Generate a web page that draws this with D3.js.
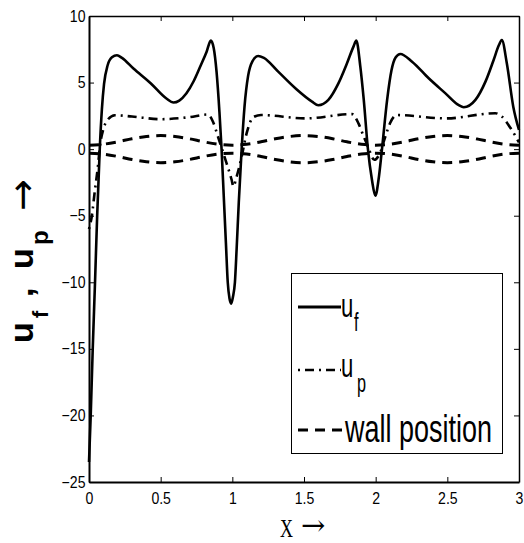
<!DOCTYPE html>
<html>
<head>
<meta charset="utf-8">
<script src="https://cdn.jsdelivr.net/npm/d3@7"></script>
<style>
  body { margin: 0; background: #fff; }
  svg { display: block; }
  .tick text { font-family: "Liberation Sans", Arial, sans-serif; font-size: 16px; fill: #000; }
</style>
</head>
<body>
<svg id="chart" width="524" height="543" viewBox="0 0 524 543"></svg>
<script>
// fluid velocity u_f (solid)
const uf = [
  [0,-23.5],[0.012,-20],[0.026,-15],[0.042,-10],[0.057,-5],[0.075,0],[0.09,3],[0.105,4.9],
  [0.13,6.3],[0.16,6.9],[0.195,7.05],[0.23,6.85],[0.31,6.05],[0.43,4.95],[0.54,3.8],
  [0.59,3.5],[0.63,3.65],[0.68,4.2],[0.73,5.1],[0.78,6.3],[0.82,7.3],[0.85,8.15],
  [0.87,7.6],[0.89,5.8],[0.91,2.8],[0.925,0],[0.94,-3.5],[0.955,-7],[0.968,-10],
  [0.98,-11.2],[0.992,-11.6],[1.004,-11.1],[1.018,-10],[1.03,-7.5],[1.045,-4],
  [1.065,0],[1.085,3.2],[1.11,5.5],[1.14,6.6],[1.18,7.0],[1.22,6.85],[1.32,5.82],
  [1.44,4.57],[1.556,3.57],[1.6,3.3],[1.67,3.7],[1.74,4.94],[1.8,6.45],[1.845,7.7],
  [1.865,8.15],[1.893,6.2],[1.917,3.7],[1.946,0],[1.974,-2.3],[1.998,-3.5],
  [2.02,-2.3],[2.044,0],[2.08,3.7],[2.11,5.9],[2.14,6.9],[2.172,7.15],[2.254,6.57],
  [2.37,5.32],[2.487,4.19],[2.58,3.3],[2.614,3.15],[2.696,3.7],[2.766,5.07],
  [2.823,6.7],[2.86,7.82],[2.88,8.2],[2.915,6.45],[2.96,3.19],[3.0,1.44]
];

// particle velocity u_p (dash-dot)
const up = [
  [0,-6],[0.02,-5],[0.04,-3.2],[0.06,-1.5],[0.08,0.5],[0.1,1.5],[0.13,2.2],[0.18,2.55],
  [0.3,2.45],[0.5,2.25],[0.7,2.4],[0.83,2.6],[0.865,2.06],[0.9,0.93],[0.96,-1.07],
  [0.995,-2.3],[1.007,-2.8],[1.03,-2.07],[1.065,-0.57],[1.1,1.2],[1.146,2.4],[1.2,2.56],
  [1.51,2.31],[1.835,2.63],[1.88,1.94],[1.917,0.93],[1.946,0.2],[1.99,-0.8],
  [2.03,-0.3],[2.067,0.93],[2.1,1.94],[2.147,2.56],[2.49,2.31],[2.835,2.7],
  [2.88,2.45],[2.94,1.6],[3.0,0.5]
];

// wall position (dashed), upper and lower walls
const wallX = [0,0.1,0.2,0.3,0.4,0.5,0.6,0.7,0.8,0.9,1.0,1.1,1.2,1.3,1.4,1.5,1.6,1.7,1.8,1.9,2.0,
               2.1,2.2,2.3,2.4,2.5,2.6,2.7,2.8,2.9,3.0];
const wallUpper = [0.3,0.37,0.55,0.78,0.95,1.02,0.95,0.78,0.55,0.37,0.3,0.37,0.55,0.78,0.95,1.02,
                   0.95,0.78,0.55,0.37,0.3,0.37,0.55,0.78,0.95,1.02,0.95,0.78,0.55,0.37,0.3];
const wallLower = [-0.3,-0.37,-0.55,-0.78,-0.95,-1.02,-0.95,-0.78,-0.55,-0.37,-0.3,-0.37,-0.55,-0.78,
                   -0.95,-1.02,-0.95,-0.78,-0.55,-0.37,-0.3,-0.37,-0.55,-0.78,-0.95,-1.02,-0.95,-0.78,
                   -0.55,-0.37,-0.3];

const xTicks = [0,0.5,1,1.5,2,2.5,3];
const yTicks = [-25,-20,-15,-10,-5,0,5,10];

let svg = d3.select("#chart");
let margins = {top: 16, right: 5, bottom: 61, left: 89};
let totalWidth = 524, totalHeight = 543;

let x = d3.scaleLinear([0, 3], [margins.left, totalWidth - margins.right]);
let y = d3.scaleLinear([-25, 10], [totalHeight - margins.bottom, margins.top]);

let dashDot = "2,5,9,5";
let dashed = "10,7";
let fmt = d3.format("~g");

// axes (ticks inside, MATLAB style)
let gBottom = svg.append("g")
    .attr("transform", `translate(0,${y(-25)})`)
    .call(d3.axisBottom(x).tickValues(xTicks).tickFormat(fmt).tickSizeInner(-5).tickSizeOuter(0).tickPadding(11));
let gLeft = svg.append("g")
    .attr("transform", `translate(${x(0)},0)`)
    .call(d3.axisLeft(y).tickValues(yTicks).tickFormat(fmt).tickSizeInner(-5).tickSizeOuter(0).tickPadding(4));
let gTop = svg.append("g")
    .attr("transform", `translate(0,${y(10)})`)
    .call(d3.axisTop(x).tickValues(xTicks).tickFormat("").tickSizeInner(-5).tickSizeOuter(0));
let gRight = svg.append("g")
    .attr("transform", `translate(${x(3)},0)`)
    .call(d3.axisRight(y).tickValues(yTicks).tickFormat("").tickSizeInner(-5).tickSizeOuter(0));

[gBottom, gLeft].forEach(g => g.select(".domain").attr("stroke-width", 2));
[gTop, gRight].forEach(g => g.select(".domain").attr("stroke-width", 1.5));
svg.selectAll(".tick line").attr("stroke-width", 1);
svg.selectAll(".tick text").attr("transform", "scale(0.88,1)");

// curves
let line = d3.line().x(d => x(d[0])).y(d => y(d[1])).curve(d3.curveMonotoneX);

svg.append("path")
    .datum(wallX.map((v, i) => [v, wallUpper[i]]))
    .attr("d", line).attr("fill", "none").attr("stroke", "#000")
    .attr("stroke-width", 3).attr("stroke-dasharray", dashed);
svg.append("path")
    .datum(wallX.map((v, i) => [v, wallLower[i]]))
    .attr("d", line).attr("fill", "none").attr("stroke", "#000")
    .attr("stroke-width", 3).attr("stroke-dasharray", dashed);

svg.append("path")
    .datum(up)
    .attr("d", line).attr("fill", "none").attr("stroke", "#000")
    .attr("stroke-width", 2.6).attr("stroke-dasharray", dashDot);

svg.append("path")
    .datum(uf)
    .attr("d", line).attr("fill", "none").attr("stroke", "#000")
    .attr("stroke-width", 2.6);

// legend
let legend = svg.append("g");
legend.append("rect")
    .attr("x", 291.5).attr("y", 273.5).attr("width", 211).attr("height", 180)
    .attr("fill", "#fff").attr("stroke", "#000").attr("stroke-width", 1);

let sans = "Liberation Sans, Arial, sans-serif";
let legendRows = [
  {y: 307, dash: null, w: 3, text: "u", sub: "f", base: 317, subBase: 331, subX: 354},
  {y: 370, dash: dashDot, w: 2.6, text: "u", sub: "p", base: 377, subBase: 392, subX: 357}
];
legendRows.forEach(r => {
  legend.append("line")
      .attr("x1", 298).attr("x2", 341).attr("y1", r.y).attr("y2", r.y)
      .attr("stroke", "#000").attr("stroke-width", r.w)
      .attr("stroke-dasharray", r.dash);
  legend.append("text")
      .attr("transform", `translate(341,${r.base}) scale(0.65,1)`)
      .style("font-family", sans).style("font-size", "34px")
      .text(r.text);
  legend.append("text")
      .attr("transform", `translate(${r.subX},${r.subBase}) scale(0.65,1)`)
      .style("font-family", sans).style("font-size", "25px")
      .text(r.sub);
});
legend.append("line")
    .attr("x1", 298).attr("x2", 342).attr("y1", 430).attr("y2", 430)
    .attr("stroke", "#000").attr("stroke-width", 3).attr("stroke-dasharray", dashed);
legend.append("text")
    .attr("transform", "translate(345,442) scale(0.71,1)")
    .style("font-family", sans).style("font-size", "38px")
    .text("wall position");

// x label
svg.append("text")
    .attr("transform", "translate(280,537) scale(0.72,1)")
    .style("font-family", "Liberation Serif, Times New Roman, serif").style("font-size", "25px")
    .text("X");
svg.append("text")
    .attr("x", 301).attr("y", 535)
    .style("font-family", "DejaVu Serif, serif").style("font-size", "29px")
    .text("\u2192");

// y label (rotated), pieces placed along the vertical
let ylab = svg.append("g").attr("transform", "rotate(-90)");
ylab.append("text").attr("x", -343).attr("y", 33)
    .style("font-family", sans).style("font-size", "34px").style("font-weight", "bold").text("u");
ylab.append("text").attr("x", -318).attr("y", 48)
    .style("font-family", sans).style("font-size", "22px").style("font-weight", "bold").text("f");
ylab.append("text").attr("x", -297).attr("y", 33)
    .style("font-family", sans).style("font-size", "34px").style("font-weight", "bold").text(",");
ylab.append("text").attr("x", -269).attr("y", 33)
    .style("font-family", sans).style("font-size", "34px").style("font-weight", "bold").text("u");
ylab.append("text").attr("x", -245).attr("y", 48)
    .style("font-family", sans).style("font-size", "24px").style("font-weight", "bold").text("p");
ylab.append("text").attr("x", -211).attr("y", 35)
    .style("font-family", "DejaVu Sans, sans-serif").style("font-size", "38px").text("\u2192");
</script>
</body>
</html>
